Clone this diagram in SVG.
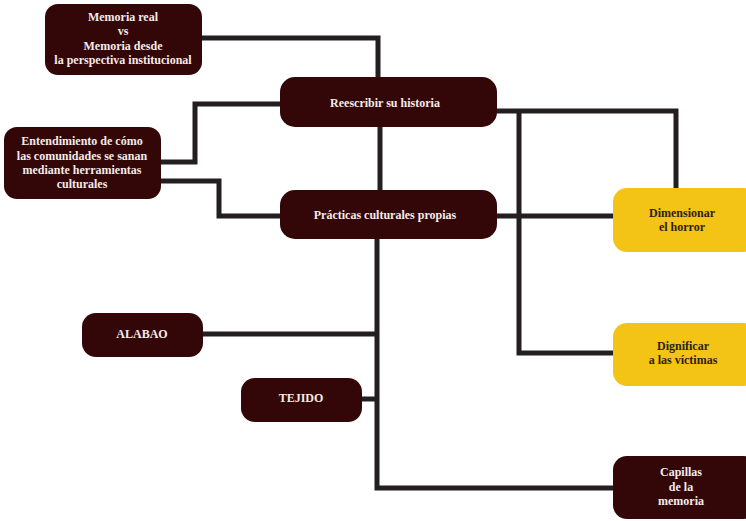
<svg xmlns="http://www.w3.org/2000/svg" width="746" height="521" viewBox="0 0 746 521">
<style>
.d{fill:#330607}
.y{fill:#f3c316}
.t{font-family:"Liberation Serif","Times New Roman",serif;font-weight:bold;font-size:12px;text-anchor:middle}
.tw{fill:#f4ece9}
.tk{fill:#2b2115}
.c{fill:none;stroke:#231f20;stroke-width:5;stroke-linejoin:miter}
</style>
<rect width="746" height="521" fill="#ffffff"/>
<g id="connectors" class="c">
<polyline points="202,38 378,38 378,78"/>
<polyline points="281,104 195,104 195,162 161,162"/>
<polyline points="161,181 219,181 219,216 281,216"/>
<line x1="380" y1="126" x2="380" y2="191"/>
<polyline points="496,111 676,111 676,189"/>
<polyline points="519,111 519,353 614,353"/>
<line x1="496" y1="216" x2="614" y2="216"/>
<polyline points="377,238 377,488 614,488"/>
<line x1="202" y1="334" x2="377" y2="334"/>
<line x1="361" y1="399" x2="377" y2="399"/>
</g>
<g id="memoria">
<rect class="d" x="45" y="4" width="157" height="71" rx="13"/>
<text class="t tw" x="123" y="21">Memoria real</text>
<text class="t tw" x="123" y="35">vs</text>
<text class="t tw" x="123" y="50">Memoria desde</text>
<text class="t tw" x="123" y="64">la perspectiva institucional</text>
</g>
<g id="entendimiento">
<rect class="d" x="4" y="127" width="157" height="72" rx="13"/>
<text class="t tw" x="82" y="145">Entendimiento de cómo</text>
<text class="t tw" x="82" y="160">las comunidades se sanan</text>
<text class="t tw" x="82" y="174">mediante herramientas</text>
<text class="t tw" x="82" y="188">culturales</text>
</g>
<g id="reescribir">
<rect class="d" x="280" y="77" width="217" height="50" rx="15"/>
<text class="t tw" x="385" y="107">Reescribir su historia</text>
</g>
<g id="practicas">
<rect class="d" x="280" y="190" width="217" height="49" rx="15"/>
<text class="t tw" x="385" y="219">Prácticas culturales propias</text>
</g>
<g id="dimensionar">
<rect class="y" x="613" y="188" width="145" height="64" rx="14"/>
<text class="t tk" x="682" y="217">Dimensionar</text>
<text class="t tk" x="682" y="231">el horror</text>
</g>
<g id="dignificar">
<rect class="y" x="613" y="323" width="145" height="63" rx="14"/>
<text class="t tk" x="683" y="350">Dignificar</text>
<text class="t tk" x="683" y="364">a las víctimas</text>
</g>
<g id="capillas">
<rect class="d" x="613" y="456" width="145" height="63" rx="14"/>
<text class="t tw" x="681" y="476">Capillas</text>
<text class="t tw" x="681" y="491">de la</text>
<text class="t tw" x="681" y="505">memoria</text>
</g>
<g id="alabao">
<rect class="d" x="82" y="313" width="121" height="44" rx="14"/>
<text class="t tw" x="142" y="338">ALABAO</text>
</g>
<g id="tejido">
<rect class="d" x="241" y="378" width="121" height="44" rx="14"/>
<text class="t tw" x="301" y="402">TEJIDO</text>
</g>
</svg>
